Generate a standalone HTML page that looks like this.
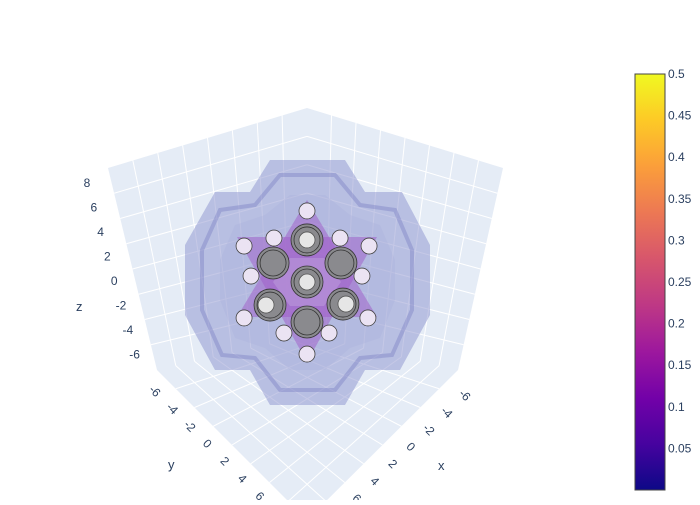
<!DOCTYPE html>
<html><head><meta charset="utf-8"><style>
body{margin:0;background:#fff;font-family:"Liberation Sans",sans-serif}
svg text{font-family:"Liberation Sans",sans-serif;fill:#2a3f5f;font-size:12px}
</style></head><body>
<svg width="700" height="500">
<defs>
<linearGradient id="plasma" x1="0" y1="1" x2="0" y2="0">
<stop offset="0" stop-color="#0d0887"/><stop offset="0.11" stop-color="#46039f"/>
<stop offset="0.22" stop-color="#7201a8"/><stop offset="0.33" stop-color="#9c179e"/>
<stop offset="0.44" stop-color="#bd3786"/><stop offset="0.56" stop-color="#d8576b"/>
<stop offset="0.67" stop-color="#ed7953"/><stop offset="0.78" stop-color="#fb9f3a"/>
<stop offset="0.89" stop-color="#fdca26"/><stop offset="1" stop-color="#f0f921"/>
</linearGradient>
</defs>
<g>
<polygon points="108,168 307,108 503,168 458,370 307,520 157,370" fill="#e5ecf6"/>
<g id="grid" stroke="#fff" stroke-width="1" fill="none"></g>
</g>
<g>
<polygon points="270,160 345,160 365,192 402,192 430,245 430,315 400,370 365,370 345,405 270,405 250,370 215,370 185,315 185,245 215,192 250,192" fill="rgba(140,145,205,0.5)"/>
<polygon points="280,175 335,175 360,205 395,210 412,250 412,310 392,355 360,358 335,390 280,390 255,358 222,355 202,310 202,250 220,210 255,205" fill="none" stroke="rgba(110,115,190,0.35)" stroke-width="4"/>
<polygon points="290,195 325,195 350,215 380,225 395,260 395,300 380,338 350,348 325,370 290,370 265,348 235,338 220,300 220,260 235,225 265,215" fill="rgba(170,175,220,0.3)"/>
</g>
<g>
<polygon points="307,200 377,317 237,317" fill="rgba(160,90,200,0.5)"/>
<polygon points="237,237 377,237 307,362" fill="rgba(160,90,200,0.5)"/>
<polygon points="290,258 324,258 341,282 324,306 290,306 273,282" fill="rgba(190,160,220,0.5)"/>
</g>
<g id="rods" stroke="#333" stroke-width="0.8"></g>
<g>
<rect x="635" y="74" width="30" height="416" fill="url(#plasma)" stroke="#444" stroke-width="1"/>
<g id="cbticks"></g>
</g>
<g id="axislabels"></g>
<text x="76" y="311" style="font-size:13px">z</text>
<text x="168" y="469" style="font-size:13px">y</text>
<text x="438" y="470" style="font-size:13px">x</text>
</svg>
<script>
const cbTicks=[0.05,0.1,0.15,0.2,0.25,0.3,0.35,0.4,0.45,0.5];
const cbMin=0.0,cbMax=0.5;
const zTicks=[8,6,4,2,0,-2,-4,-6];
const yTicks=[-6,-4,-2,0,2,4,6];
const xTicks=[-6,-4,-2,0,2,4,6];
const smallRods=[[0,4.9],[-2.28,3.03],[2.28,3.03],[-4.34,2.48],[4.28,2.48],[-3.86,0.41],[3.79,0.41],[-4.34,-2.48],[4.2,-2.48],[-1.59,-3.52],[1.52,-3.52],[0,-4.97]];
const bigRods=[[0,2.9,1],[-2.34,1.31,0],[2.34,1.31,0],[0,0,1],[-2.55,-1.59,1],[2.48,-1.52,1],[0,-2.76,0]];
const NS="http://www.w3.org/2000/svg";
function mk(t,a,p){const e=document.createElementNS(NS,t);for(const k in a)e.setAttribute(k,a[k]);p.appendChild(e);return e;}
const g=document.getElementById('grid');
const B=[307,335];
for(let i=1;i<8;i++){const f=i/8;
 mk('line',{x1:108+199*f,y1:168-60*f,x2:157+150*f,y2:370-35*f},g);
 mk('line',{x1:307+196*f,y1:108+60*f,x2:307+151*f,y2:335+35*f},g);
 mk('line',{x1:108+49*f,y1:168+202*f,x2:307,y2:108+227*f},g);
 mk('line',{x1:503-45*f,y1:168+202*f,x2:307,y2:108+227*f},g);
 mk('line',{x1:157+150*f,y1:370-35*f,x2:307+151*f,y2:520-150*f},g);
 mk('line',{x1:307+151*f,y1:335+35*f,x2:157+150*f,y2:370+150*f},g);}
const px=v=>307+v*14.5,py=v=>282-v*14.5;
const cbY=v=>490-(v-cbMin)/(cbMax-cbMin)*416;
const r=document.getElementById('rods');
bigRods.forEach(b=>{
 const c=mk('circle',{cx:px(b[0]),cy:py(b[1]),r:16,fill:'#8a8a8e'},r);
 
 
 mk('circle',{cx:px(b[0]),cy:py(b[1]),r:13,fill:'none'},r);
 if(b[2]){const w=mk('circle',{cx:px(b[0])+(b[0]<-1?-4:(b[0]>1?3:0)),cy:py(b[1]),r:8,fill:'#e6e6e6',stroke:'#555'},r);
 
 }
});
smallRods.forEach(s=>{
 const c=mk('circle',{cx:px(s[0]),cy:py(s[1]),r:8,fill:'#ebe3f3',stroke:'#444'},r);
 
 
});
const cb=document.getElementById('cbticks');
cbTicks.forEach(v=>{const t=mk('text',{x:668,y:cbY(v)+4},cb);t.textContent=v;
 
 });
const al=document.getElementById('axislabels');
zTicks.forEach((v,i)=>{const t=mk('text',{x:87+i*6.8,y:187+i*24.5,'text-anchor':'middle'},al);t.textContent=v;
 
 });
yTicks.forEach((v,i)=>{const x=152+i*17.5,y=394+i*17.5;const t=mk('text',{x:x,y:y,'text-anchor':'middle',transform:`rotate(45 ${x} ${y})`},al);t.textContent=v;
 
 });
xTicks.forEach((v,i)=>{const x=462-i*18,y=398+i*17.2;const t=mk('text',{x:x,y:y,'text-anchor':'middle',transform:`rotate(45 ${x} ${y})`},al);t.textContent=v;
 
 });
</script>
</body></html>
